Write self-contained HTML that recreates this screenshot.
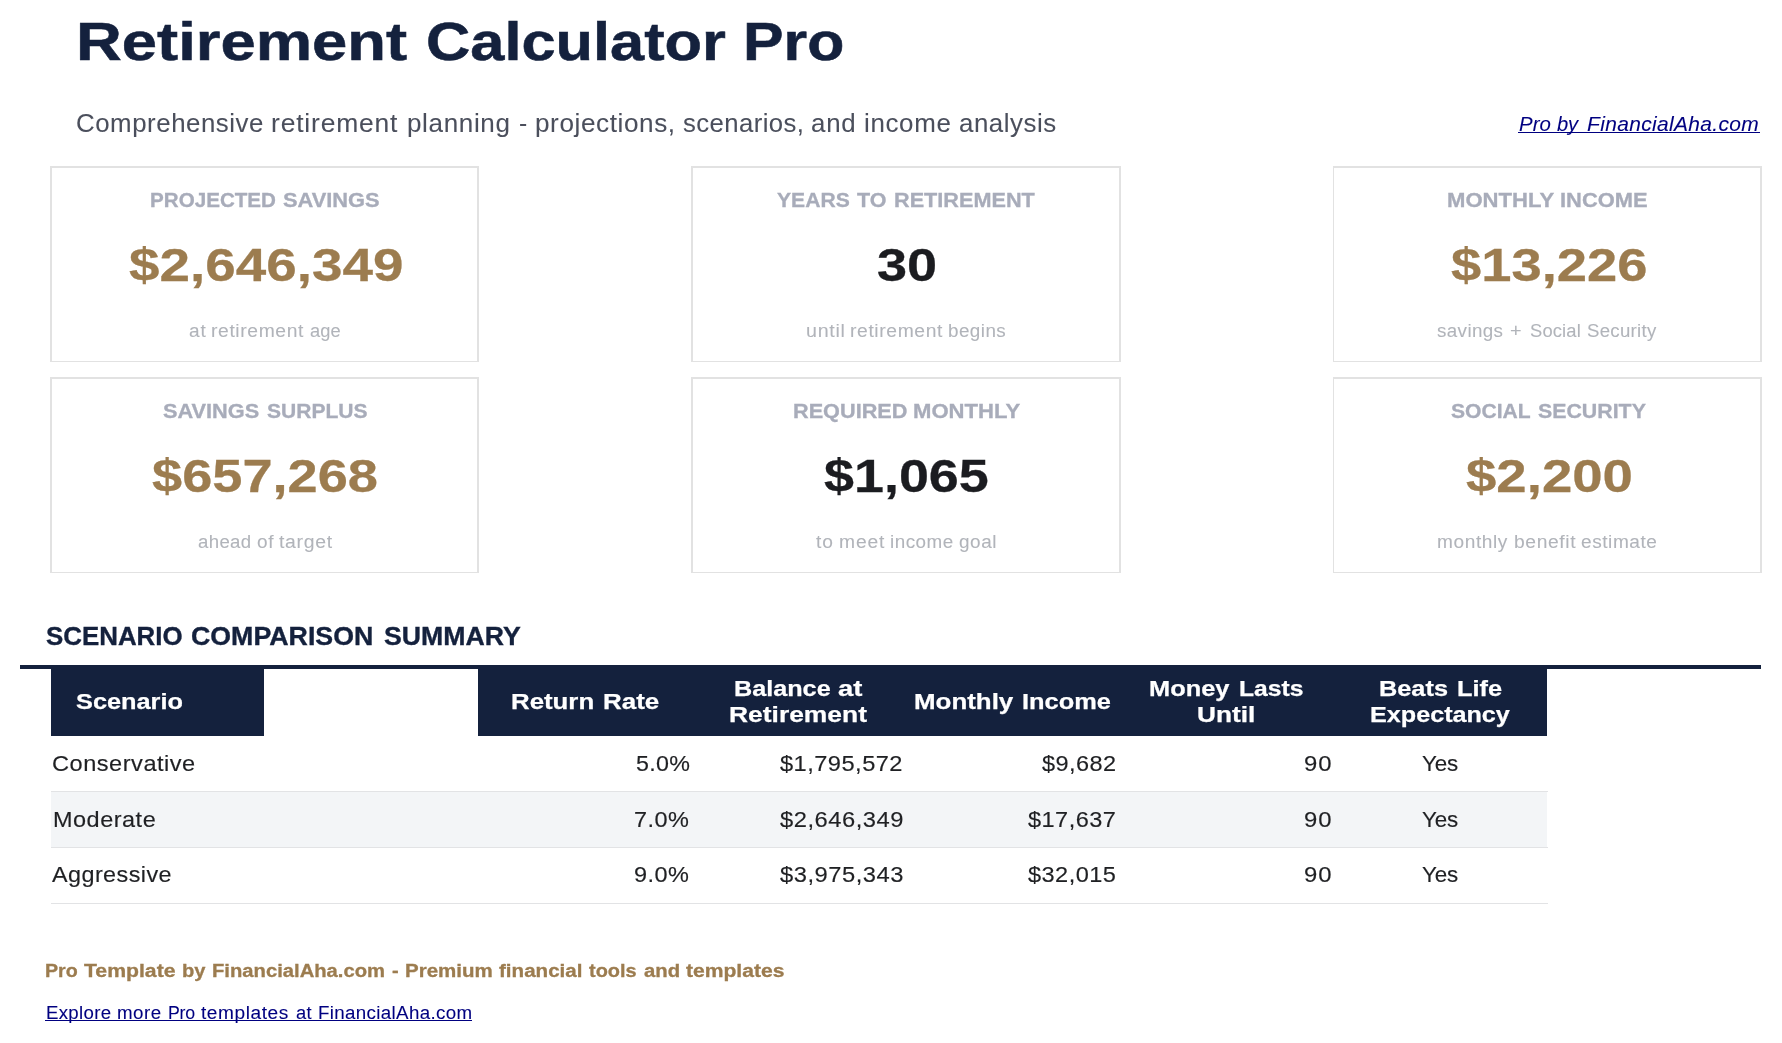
<!DOCTYPE html>
<html lang="en">
<head>
<meta charset="utf-8">
<title>Retirement Calculator Pro</title>
<style>
html,body{margin:0;padding:0;background:#fff}
body{width:1782px;height:1043px;position:relative;overflow:hidden;font-family:"Liberation Sans",sans-serif}
.b{position:absolute}
.t{position:absolute;white-space:nowrap;line-height:1;transform-origin:0 50%}
#page{position:absolute;left:0;top:0;width:1782px;height:1043px;will-change:transform}
</style>
</head>
<body>
<div id="page">
<div class="b" style="left:50px;top:166px;width:429px;height:196px;border:2px solid #e2e2e2;border-bottom-width:1px;border-left-width:2px;box-sizing:border-box;background:#fff"></div>
<div class="b" style="left:691px;top:166px;width:430px;height:196px;border:2px solid #e2e2e2;border-bottom-width:1px;border-left-width:2px;box-sizing:border-box;background:#fff"></div>
<div class="b" style="left:1333px;top:166px;width:429px;height:196px;border:2px solid #e2e2e2;border-bottom-width:1px;border-left-width:1px;box-sizing:border-box;background:#fff"></div>
<div class="b" style="left:50px;top:377px;width:429px;height:196px;border:2px solid #e2e2e2;border-bottom-width:1px;border-left-width:2px;box-sizing:border-box;background:#fff"></div>
<div class="b" style="left:691px;top:377px;width:430px;height:196px;border:2px solid #e2e2e2;border-bottom-width:1px;border-left-width:2px;box-sizing:border-box;background:#fff"></div>
<div class="b" style="left:1333px;top:377px;width:429px;height:196px;border:2px solid #e2e2e2;border-bottom-width:1px;border-left-width:1px;box-sizing:border-box;background:#fff"></div>
<div class="b" style="left:20px;top:665px;width:1741px;height:4px;background:#14213d"></div>
<div class="b" style="left:51px;top:669px;width:213px;height:67px;background:#14213d"></div>
<div class="b" style="left:478px;top:665px;width:1069px;height:71px;background:#14213d"></div>
<div class="b" style="left:51px;top:792px;width:1495.5px;height:55px;background:#f3f5f7"></div>
<div class="b" style="left:51px;top:791px;width:1497px;height:1px;background:#e2e3e5"></div>
<div class="b" style="left:51px;top:847px;width:1497px;height:1px;background:#e2e3e5"></div>
<div class="b" style="left:51px;top:903px;width:1497px;height:1px;background:#e2e3e5"></div>
<div class="b" style="left:1517.5px;top:132px;width:242.0px;height:1px;background:#000080"></div>
<div class="b" style="left:45px;top:1020px;width:426.5px;height:1px;background:#000080"></div>
<div><span class="t" style="left:75.8px;top:15.01px;font-size:54.33px;color:#14213d;font-weight:bold;transform:scaleX(1.1667);-webkit-text-stroke:0.54px #14213d;">Retirement</span> <span class="t" style="left:425.84px;top:15.01px;font-size:54.33px;color:#14213d;font-weight:bold;transform:scaleX(1.1289);-webkit-text-stroke:0.54px #14213d;">Calculator</span> <span class="t" style="left:742.65px;top:15.01px;font-size:54.33px;color:#14213d;font-weight:bold;transform:scaleX(1.1183);-webkit-text-stroke:0.54px #14213d;">Pro</span></div>
<div><span class="t" style="left:75.76px;top:111.01px;font-size:24.9px;color:#4b4f5c;transform:scaleX(1.0371);letter-spacing:0.533px;-webkit-text-stroke:0.07px #4b4f5c;">Comprehensive</span> <span class="t" style="left:271.14px;top:111.01px;font-size:24.9px;color:#4b4f5c;transform:scaleX(1.0627);letter-spacing:0.774px;-webkit-text-stroke:0.07px #4b4f5c;">retirement</span> <span class="t" style="left:406.95px;top:111.01px;font-size:24.9px;color:#4b4f5c;transform:scaleX(1.0462);letter-spacing:0.609px;-webkit-text-stroke:0.07px #4b4f5c;">planning</span> <span class="t" style="left:518.51px;top:111.01px;font-size:24.9px;color:#4b4f5c;transform:scaleX(0.9856);-webkit-text-stroke:0.07px #4b4f5c;">-</span> <span class="t" style="left:534.55px;top:111.01px;font-size:24.9px;color:#4b4f5c;transform:scaleX(1.0496);letter-spacing:0.560px;-webkit-text-stroke:0.07px #4b4f5c;">projections,</span> <span class="t" style="left:682.6px;top:111.01px;font-size:24.9px;color:#4b4f5c;transform:scaleX(1.0325);letter-spacing:0.403px;-webkit-text-stroke:0.07px #4b4f5c;">scenarios,</span> <span class="t" style="left:810.96px;top:111.01px;font-size:24.9px;color:#4b4f5c;transform:scaleX(1.0385);letter-spacing:0.764px;-webkit-text-stroke:0.07px #4b4f5c;">and</span> <span class="t" style="left:864.46px;top:111.01px;font-size:24.9px;color:#4b4f5c;transform:scaleX(1.0407);letter-spacing:0.638px;-webkit-text-stroke:0.07px #4b4f5c;">income</span> <span class="t" style="left:958.96px;top:111.01px;font-size:24.9px;color:#4b4f5c;transform:scaleX(1.0395);letter-spacing:0.499px;-webkit-text-stroke:0.07px #4b4f5c;">analysis</span></div>
<div><span class="t" style="left:1518.8px;top:114px;font-size:20.37px;color:#000080;font-style:italic;transform:scaleX(1.0022);letter-spacing:0.035px;-webkit-text-stroke:0.08px #000080;">Pro</span> <span class="t" style="left:1556.8px;top:114px;font-size:20.37px;color:#000080;font-style:italic;transform:scaleX(0.9887);letter-spacing:-0.263px;-webkit-text-stroke:0.08px #000080;">by</span> <span class="t" style="left:1587.2px;top:114px;font-size:20.37px;color:#000080;font-style:italic;transform:scaleX(1.0302);letter-spacing:0.326px;-webkit-text-stroke:0.08px #000080;">FinancialAha.com</span></div>
<div><span class="t" style="left:149.56px;top:190.01px;font-size:20.57px;color:#a8acba;font-weight:bold;transform:scaleX(1.0024);-webkit-text-stroke:0.31px #a8acba;">PROJECTED</span> <span class="t" style="left:282.76px;top:190.01px;font-size:20.57px;color:#a8acba;font-weight:bold;transform:scaleX(1.0611);-webkit-text-stroke:0.31px #a8acba;">SAVINGS</span></div>
<div><span class="t" style="left:128.6px;top:243.01px;font-size:45.71px;color:#9c7c4f;font-weight:bold;transform:scaleX(1.1997);-webkit-text-stroke:0.27px #9c7c4f;">$2,646,349</span></div>
<div><span class="t" style="left:189.02px;top:322.01px;font-size:18.11px;color:#b1b4ba;transform:scaleX(1.0516);letter-spacing:0.777px;-webkit-text-stroke:0.09px #b1b4ba;">at</span> <span class="t" style="left:210.98px;top:322.01px;font-size:18.11px;color:#b1b4ba;transform:scaleX(1.0652);letter-spacing:0.583px;-webkit-text-stroke:0.09px #b1b4ba;">retirement</span> <span class="t" style="left:309.73px;top:322.01px;font-size:18.11px;color:#b1b4ba;transform:scaleX(1.0094);letter-spacing:0.142px;-webkit-text-stroke:0.09px #b1b4ba;">age</span></div>
<div><span class="t" style="left:777.01px;top:190.01px;font-size:20.57px;color:#a8acba;font-weight:bold;transform:scaleX(1.0262);-webkit-text-stroke:0.31px #a8acba;">YEARS</span> <span class="t" style="left:856.86px;top:190.01px;font-size:20.57px;color:#a8acba;font-weight:bold;transform:scaleX(1.0438);-webkit-text-stroke:0.31px #a8acba;">TO</span> <span class="t" style="left:893.7px;top:190.01px;font-size:20.57px;color:#a8acba;font-weight:bold;transform:scaleX(1.0530);-webkit-text-stroke:0.31px #a8acba;">RETIREMENT</span></div>
<div><span class="t" style="left:876.63px;top:243.01px;font-size:45.71px;color:#1b1c20;font-weight:bold;transform:scaleX(1.1830);-webkit-text-stroke:0.27px #1b1c20;">30</span></div>
<div><span class="t" style="left:806.24px;top:322.01px;font-size:18.11px;color:#b1b4ba;transform:scaleX(1.0850);letter-spacing:0.663px;-webkit-text-stroke:0.09px #b1b4ba;">until</span> <span class="t" style="left:850.36px;top:322.01px;font-size:18.11px;color:#b1b4ba;transform:scaleX(1.0652);letter-spacing:0.583px;-webkit-text-stroke:0.09px #b1b4ba;">retirement</span> <span class="t" style="left:948.06px;top:322.01px;font-size:18.11px;color:#b1b4ba;transform:scaleX(1.0409);letter-spacing:0.428px;-webkit-text-stroke:0.09px #b1b4ba;">begins</span></div>
<div><span class="t" style="left:1446.82px;top:190.01px;font-size:20.57px;color:#a8acba;font-weight:bold;transform:scaleX(1.0740);-webkit-text-stroke:0.31px #a8acba;">MONTHLY</span> <span class="t" style="left:1560.17px;top:190.01px;font-size:20.57px;color:#a8acba;font-weight:bold;transform:scaleX(1.0645);-webkit-text-stroke:0.31px #a8acba;">INCOME</span></div>
<div><span class="t" style="left:1450.53px;top:243.01px;font-size:45.71px;color:#9c7c4f;font-weight:bold;transform:scaleX(1.1897);-webkit-text-stroke:0.27px #9c7c4f;">$13,226</span></div>
<div><span class="t" style="left:1437.45px;top:322.01px;font-size:18.11px;color:#b1b4ba;transform:scaleX(1.0369);letter-spacing:0.377px;-webkit-text-stroke:0.09px #b1b4ba;">savings</span> <span class="t" style="left:1510px;top:322.01px;font-size:18.11px;color:#b1b4ba;transform:scaleX(1.0954);-webkit-text-stroke:0.09px #b1b4ba;">+</span> <span class="t" style="left:1530.12px;top:322.01px;font-size:18.11px;color:#b1b4ba;transform:scaleX(1.0151);letter-spacing:0.146px;-webkit-text-stroke:0.09px #b1b4ba;">Social</span> <span class="t" style="left:1587.26px;top:322.01px;font-size:18.11px;color:#b1b4ba;transform:scaleX(1.0283);letter-spacing:0.269px;-webkit-text-stroke:0.09px #b1b4ba;">Security</span></div>
<div><span class="t" style="left:162.52px;top:401.01px;font-size:20.57px;color:#a8acba;font-weight:bold;transform:scaleX(1.0569);-webkit-text-stroke:0.31px #a8acba;">SAVINGS</span> <span class="t" style="left:266.87px;top:401.01px;font-size:20.57px;color:#a8acba;font-weight:bold;transform:scaleX(1.0227);-webkit-text-stroke:0.31px #a8acba;">SURPLUS</span></div>
<div><span class="t" style="left:152.24px;top:454.01px;font-size:45.71px;color:#9c7c4f;font-weight:bold;transform:scaleX(1.1852);-webkit-text-stroke:0.27px #9c7c4f;">$657,268</span></div>
<div><span class="t" style="left:198.15px;top:533.01px;font-size:18.11px;color:#b1b4ba;transform:scaleX(1.0279);letter-spacing:0.344px;-webkit-text-stroke:0.09px #b1b4ba;">ahead</span> <span class="t" style="left:256.8px;top:533.01px;font-size:18.11px;color:#b1b4ba;transform:scaleX(1.0479);letter-spacing:0.770px;-webkit-text-stroke:0.09px #b1b4ba;">of</span> <span class="t" style="left:279.11px;top:533.01px;font-size:18.11px;color:#b1b4ba;transform:scaleX(1.0712);letter-spacing:0.659px;-webkit-text-stroke:0.09px #b1b4ba;">target</span></div>
<div><span class="t" style="left:792.54px;top:401.01px;font-size:20.57px;color:#a8acba;font-weight:bold;transform:scaleX(1.0542);-webkit-text-stroke:0.31px #a8acba;">REQUIRED</span> <span class="t" style="left:913.03px;top:401.01px;font-size:20.57px;color:#a8acba;font-weight:bold;transform:scaleX(1.0740);-webkit-text-stroke:0.31px #a8acba;">MONTHLY</span></div>
<div><span class="t" style="left:824.31px;top:454.01px;font-size:45.71px;color:#1b1c20;font-weight:bold;transform:scaleX(1.1787);-webkit-text-stroke:0.27px #1b1c20;">$1,065</span></div>
<div><span class="t" style="left:815.98px;top:533.01px;font-size:18.11px;color:#b1b4ba;transform:scaleX(1.0580);letter-spacing:0.871px;-webkit-text-stroke:0.09px #b1b4ba;">to</span> <span class="t" style="left:838.92px;top:533.01px;font-size:18.11px;color:#b1b4ba;transform:scaleX(1.0636);letter-spacing:0.831px;-webkit-text-stroke:0.09px #b1b4ba;">meet</span> <span class="t" style="left:889.67px;top:533.01px;font-size:18.11px;color:#b1b4ba;transform:scaleX(1.0405);letter-spacing:0.464px;-webkit-text-stroke:0.09px #b1b4ba;">income</span> <span class="t" style="left:959px;top:533.01px;font-size:18.11px;color:#b1b4ba;transform:scaleX(1.0463);letter-spacing:0.513px;-webkit-text-stroke:0.09px #b1b4ba;">goal</span></div>
<div><span class="t" style="left:1450.77px;top:401.01px;font-size:20.57px;color:#a8acba;font-weight:bold;transform:scaleX(1.0253);-webkit-text-stroke:0.31px #a8acba;">SOCIAL</span> <span class="t" style="left:1538.13px;top:401.01px;font-size:20.57px;color:#a8acba;font-weight:bold;transform:scaleX(1.0376);-webkit-text-stroke:0.31px #a8acba;">SECURITY</span></div>
<div><span class="t" style="left:1465.81px;top:454.01px;font-size:45.71px;color:#9c7c4f;font-weight:bold;transform:scaleX(1.1945);-webkit-text-stroke:0.27px #9c7c4f;">$2,200</span></div>
<div><span class="t" style="left:1437.24px;top:533.01px;font-size:18.11px;color:#b1b4ba;transform:scaleX(1.0536);letter-spacing:0.566px;-webkit-text-stroke:0.09px #b1b4ba;">monthly</span> <span class="t" style="left:1514.4px;top:533.01px;font-size:18.11px;color:#b1b4ba;transform:scaleX(1.0647);letter-spacing:0.575px;-webkit-text-stroke:0.09px #b1b4ba;">benefit</span> <span class="t" style="left:1581.28px;top:533.01px;font-size:18.11px;color:#b1b4ba;transform:scaleX(1.0535);letter-spacing:0.523px;-webkit-text-stroke:0.09px #b1b4ba;">estimate</span></div>
<div><span class="t" style="left:46px;top:624px;font-size:25.14px;color:#14213d;font-weight:bold;transform:scaleX(1.0297);-webkit-text-stroke:0.35px #14213d;">SCENARIO</span> <span class="t" style="left:191.14px;top:624px;font-size:25.14px;color:#14213d;font-weight:bold;transform:scaleX(1.0646);-webkit-text-stroke:0.35px #14213d;">COMPARISON</span> <span class="t" style="left:384px;top:624px;font-size:25.14px;color:#14213d;font-weight:bold;transform:scaleX(1.0611);-webkit-text-stroke:0.35px #14213d;">SUMMARY</span></div>
<div><span class="t" style="left:76.2px;top:691.01px;font-size:22.64px;color:#fff;font-weight:bold;transform:scaleX(1.1187);-webkit-text-stroke:0.25px #fff;">Scenario</span></div>
<div><span class="t" style="left:510.66px;top:691.01px;font-size:22.64px;color:#fff;font-weight:bold;transform:scaleX(1.1405);-webkit-text-stroke:0.25px #fff;">Return</span> <span class="t" style="left:602.91px;top:691.01px;font-size:22.64px;color:#fff;font-weight:bold;transform:scaleX(1.1477);-webkit-text-stroke:0.25px #fff;">Rate</span></div>
<div><span class="t" style="left:733.88px;top:678.01px;font-size:22.64px;color:#fff;font-weight:bold;transform:scaleX(1.1138);-webkit-text-stroke:0.25px #fff;">Balance</span> <span class="t" style="left:838.31px;top:678.01px;font-size:22.64px;color:#fff;font-weight:bold;transform:scaleX(1.2133);-webkit-text-stroke:0.25px #fff;">at</span></div>
<div><span class="t" style="left:729.29px;top:704.01px;font-size:22.64px;color:#fff;font-weight:bold;transform:scaleX(1.1675);-webkit-text-stroke:0.25px #fff;">Retirement</span></div>
<div><span class="t" style="left:913.82px;top:691.01px;font-size:22.64px;color:#fff;font-weight:bold;transform:scaleX(1.1445);-webkit-text-stroke:0.25px #fff;">Monthly</span> <span class="t" style="left:1022.29px;top:691.01px;font-size:22.64px;color:#fff;font-weight:bold;transform:scaleX(1.1221);-webkit-text-stroke:0.25px #fff;">Income</span></div>
<div><span class="t" style="left:1149.31px;top:678.01px;font-size:22.64px;color:#fff;font-weight:bold;transform:scaleX(1.1224);-webkit-text-stroke:0.25px #fff;">Money</span> <span class="t" style="left:1238.98px;top:678.01px;font-size:22.64px;color:#fff;font-weight:bold;transform:scaleX(1.0887);-webkit-text-stroke:0.25px #fff;">Lasts</span></div>
<div><span class="t" style="left:1197.35px;top:704.01px;font-size:22.64px;color:#fff;font-weight:bold;transform:scaleX(1.1600);-webkit-text-stroke:0.25px #fff;">Until</span></div>
<div><span class="t" style="left:1378.78px;top:678.01px;font-size:22.64px;color:#fff;font-weight:bold;transform:scaleX(1.1193);-webkit-text-stroke:0.25px #fff;">Beats</span> <span class="t" style="left:1456.62px;top:678.01px;font-size:22.64px;color:#fff;font-weight:bold;transform:scaleX(1.1203);-webkit-text-stroke:0.25px #fff;">Life</span></div>
<div><span class="t" style="left:1370.03px;top:704.01px;font-size:22.64px;color:#fff;font-weight:bold;transform:scaleX(1.1120);-webkit-text-stroke:0.25px #fff;">Expectancy</span></div>
<div><span class="t" style="left:52.26px;top:753.01px;font-size:22.64px;color:#1f2023;transform:scaleX(1.0418);letter-spacing:0.495px;-webkit-text-stroke:0.16px #1f2023;">Conservative</span></div>
<div><span class="t" style="left:635.52px;top:752.01px;font-size:22.86px;color:#1f2023;transform:scaleX(1.0176);letter-spacing:0.303px;-webkit-text-stroke:0.16px #1f2023;">5.0%</span></div>
<div><span class="t" style="left:780.08px;top:752.01px;font-size:22.86px;color:#1f2023;transform:scaleX(1.0349);letter-spacing:0.441px;-webkit-text-stroke:0.16px #1f2023;">$1,795,572</span></div>
<div><span class="t" style="left:1042.14px;top:752.01px;font-size:22.86px;color:#1f2023;transform:scaleX(1.0292);letter-spacing:0.404px;-webkit-text-stroke:0.16px #1f2023;">$9,682</span></div>
<div><span class="t" style="left:1303.57px;top:752.01px;font-size:22.86px;color:#1f2023;transform:scaleX(1.0440);letter-spacing:1.044px;-webkit-text-stroke:0.16px #1f2023;">90</span></div>
<div><span class="t" style="left:1422.12px;top:753.01px;font-size:22.64px;color:#1f2023;transform:scaleX(0.9887);letter-spacing:-0.206px;-webkit-text-stroke:0.16px #1f2023;">Yes</span></div>
<div><span class="t" style="left:53.26px;top:809.01px;font-size:22.64px;color:#1f2023;transform:scaleX(1.0369);letter-spacing:0.495px;-webkit-text-stroke:0.16px #1f2023;">Moderate</span></div>
<div><span class="t" style="left:634.49px;top:808.01px;font-size:22.86px;color:#1f2023;transform:scaleX(1.0275);letter-spacing:0.466px;-webkit-text-stroke:0.16px #1f2023;">7.0%</span></div>
<div><span class="t" style="left:780.08px;top:808.01px;font-size:22.86px;color:#1f2023;transform:scaleX(1.0391);letter-spacing:0.494px;-webkit-text-stroke:0.16px #1f2023;">$2,646,349</span></div>
<div><span class="t" style="left:1028.3px;top:808.01px;font-size:22.86px;color:#1f2023;transform:scaleX(1.0315);letter-spacing:0.429px;-webkit-text-stroke:0.16px #1f2023;">$17,637</span></div>
<div><span class="t" style="left:1303.57px;top:808.01px;font-size:22.86px;color:#1f2023;transform:scaleX(1.0440);letter-spacing:1.044px;-webkit-text-stroke:0.16px #1f2023;">90</span></div>
<div><span class="t" style="left:1422.12px;top:809.01px;font-size:22.64px;color:#1f2023;transform:scaleX(0.9887);letter-spacing:-0.206px;-webkit-text-stroke:0.16px #1f2023;">Yes</span></div>
<div><span class="t" style="left:52.3px;top:864.01px;font-size:22.64px;color:#1f2023;transform:scaleX(1.0335);letter-spacing:0.414px;-webkit-text-stroke:0.16px #1f2023;">Aggressive</span></div>
<div><span class="t" style="left:634.49px;top:863.01px;font-size:22.86px;color:#1f2023;transform:scaleX(1.0275);letter-spacing:0.466px;-webkit-text-stroke:0.16px #1f2023;">9.0%</span></div>
<div><span class="t" style="left:780.08px;top:863.01px;font-size:22.86px;color:#1f2023;transform:scaleX(1.0391);letter-spacing:0.494px;-webkit-text-stroke:0.16px #1f2023;">$3,975,343</span></div>
<div><span class="t" style="left:1028.3px;top:863.01px;font-size:22.86px;color:#1f2023;transform:scaleX(1.0315);letter-spacing:0.429px;-webkit-text-stroke:0.16px #1f2023;">$32,015</span></div>
<div><span class="t" style="left:1303.57px;top:863.01px;font-size:22.86px;color:#1f2023;transform:scaleX(1.0440);letter-spacing:1.044px;-webkit-text-stroke:0.16px #1f2023;">90</span></div>
<div><span class="t" style="left:1422.12px;top:864.01px;font-size:22.64px;color:#1f2023;transform:scaleX(0.9887);letter-spacing:-0.206px;-webkit-text-stroke:0.16px #1f2023;">Yes</span></div>
<div><span class="t" style="left:45.22px;top:962.01px;font-size:18.11px;color:#9c7c4f;font-weight:bold;transform:scaleX(1.0849);-webkit-text-stroke:0.31px #9c7c4f;">Pro</span> <span class="t" style="left:83.9px;top:962.01px;font-size:18.11px;color:#9c7c4f;font-weight:bold;transform:scaleX(1.1705);-webkit-text-stroke:0.31px #9c7c4f;">Template</span> <span class="t" style="left:182.49px;top:962.01px;font-size:18.11px;color:#9c7c4f;font-weight:bold;transform:scaleX(1.1116);-webkit-text-stroke:0.31px #9c7c4f;">by</span> <span class="t" style="left:212.38px;top:962.01px;font-size:18.11px;color:#9c7c4f;font-weight:bold;transform:scaleX(1.1166);-webkit-text-stroke:0.31px #9c7c4f;">FinancialAha.com</span> <span class="t" style="left:392.4px;top:962.01px;font-size:18.11px;color:#9c7c4f;font-weight:bold;transform:scaleX(1.1000);-webkit-text-stroke:0.31px #9c7c4f;">-</span> <span class="t" style="left:405.47px;top:962.01px;font-size:18.11px;color:#9c7c4f;font-weight:bold;transform:scaleX(1.1314);-webkit-text-stroke:0.31px #9c7c4f;">Premium</span> <span class="t" style="left:499.4px;top:962.01px;font-size:18.11px;color:#9c7c4f;font-weight:bold;transform:scaleX(1.1362);-webkit-text-stroke:0.31px #9c7c4f;">financial</span> <span class="t" style="left:588.8px;top:962.01px;font-size:18.11px;color:#9c7c4f;font-weight:bold;transform:scaleX(1.0999);-webkit-text-stroke:0.31px #9c7c4f;">tools</span> <span class="t" style="left:643.5px;top:962.01px;font-size:18.11px;color:#9c7c4f;font-weight:bold;transform:scaleX(1.1210);-webkit-text-stroke:0.31px #9c7c4f;">and</span> <span class="t" style="left:686.1px;top:962.01px;font-size:18.11px;color:#9c7c4f;font-weight:bold;transform:scaleX(1.1637);-webkit-text-stroke:0.31px #9c7c4f;">templates</span></div>
<div><span class="t" style="left:45.57px;top:1004.01px;font-size:18.11px;color:#000080;transform:scaleX(1.0292);letter-spacing:0.293px;-webkit-text-stroke:0.09px #000080;">Explore</span> <span class="t" style="left:116.97px;top:1004.01px;font-size:18.11px;color:#000080;transform:scaleX(1.0344);letter-spacing:0.461px;-webkit-text-stroke:0.09px #000080;">more</span> <span class="t" style="left:167.62px;top:1004.01px;font-size:18.11px;color:#000080;transform:scaleX(0.9793);letter-spacing:-0.280px;-webkit-text-stroke:0.09px #000080;">Pro</span> <span class="t" style="left:201.3px;top:1004.01px;font-size:18.11px;color:#000080;transform:scaleX(1.0548);letter-spacing:0.538px;-webkit-text-stroke:0.09px #000080;">templates</span> <span class="t" style="left:296px;top:1004.01px;font-size:18.11px;color:#000080;transform:scaleX(1.0141);letter-spacing:0.213px;-webkit-text-stroke:0.09px #000080;">at</span> <span class="t" style="left:317.67px;top:1004.01px;font-size:18.11px;color:#000080;transform:scaleX(1.0348);letter-spacing:0.329px;-webkit-text-stroke:0.09px #000080;">FinancialAha.com</span></div>
</div>
</body>
</html>
